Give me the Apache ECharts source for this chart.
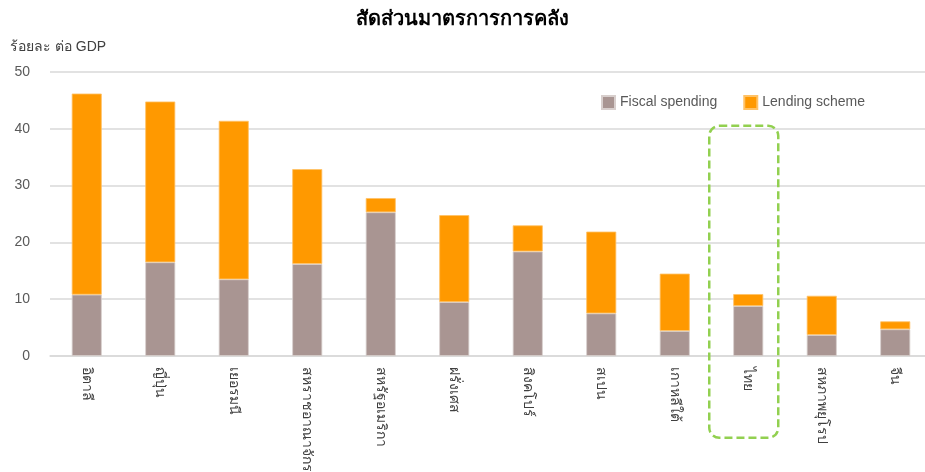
<!DOCTYPE html>
<html lang="th">
<head>
  <meta charset="UTF-8">
  <title>สัดส่วนมาตรการการคลัง</title>
  <script src="https://cdn.jsdelivr.net/npm/echarts@6/dist/echarts.min.js"></script>
  <style>
    html, body { margin: 0; padding: 0; background: #fff; }
  </style>
</head>
<body>
  <div id="main" style="width: 925px;height:472px;"></div>
  <script type="text/javascript">
      // ข้อมูล (ร้อยละ ต่อ GDP)
      var countries = ['อิตาลี', 'ญี่ปุ่น', 'เยอรมนี', 'สหราชอาณาจักร', 'สหรัฐอเมริกา', 'ฝรั่งเศส',
                       'สิงคโปร์', 'สเปน', 'เกาหลีใต้', 'ไทย', 'สหภาพยุโรป', 'จีน'];
      var fiscalSpending = [10.8, 16.5, 13.5, 16.2, 25.3, 9.5, 18.4, 7.5, 4.4, 8.8, 3.7, 4.7];
      var lendingScheme  = [35.4, 28.3, 27.9, 16.7, 2.5, 15.3, 4.6, 14.4, 10.1, 2.1, 6.9, 1.4];
      var yTicks = [0, 10, 20, 30, 40, 50];
      var highlight = 'ไทย';

      var myChart = echarts.init(document.getElementById('main'));
      var font = 'Arial, "Liberation Sans", "Noto Sans", sans-serif';

      var option = {
        animation: false,
        title: {
          text: 'สัดส่วนมาตรการการคลัง',
          left: 'center',
          top: 4,
          textStyle: { fontSize: 20, fontWeight: 'bold', color: '#000', fontFamily: font }
        },
        legend: {
          data: ['Fiscal spending', 'Lending scheme'],
          left: 596,
          top: 90,
          icon: 'rect',
          itemWidth: 13,
          itemHeight: 13,
          itemGap: 26,
          textStyle: { fontSize: 14, color: '#595959', fontFamily: font }
        },
        grid: {
          left: 50,
          right: -7,
          top: 72,
          bottom: 116,
          outerBoundsMode: 'none'
        },
        xAxis: {
          type: 'category',
          data: countries,
          axisTick: { show: false },
          axisLine: { lineStyle: { color: '#d9d9d9', width: 1.5 } },
          axisLabel: {
            rotate: -90,
            margin: 11,
            fontSize: 14,
            color: '#404040',
            fontFamily: font
          }
        },
        yAxis: {
          type: 'value',
          min: yTicks[0],
          max: yTicks[yTicks.length - 1],
          interval: 10,
          name: 'ร้อยละ ต่อ GDP',
          nameLocation: 'end',
          nameGap: 18,
          nameTextStyle: { fontSize: 14, color: '#404040', align: 'left', padding: [0, 0, 0, -40], fontFamily: font },
          axisLabel: { fontSize: 14, color: '#595959', margin: 20, fontFamily: font },
          splitLine: { lineStyle: { color: '#d9d9d9', width: 1.5 } }
        },
        series: [
          {
            name: 'Fiscal spending',
            type: 'bar',
            stack: 'total',
            barWidth: 30,
            data: fiscalSpending,
            itemStyle: { color: '#a99592', borderColor: '#d8cfcd', borderWidth: 0.8 }
          },
          {
            name: 'Lending scheme',
            type: 'bar',
            stack: 'total',
            barWidth: 30,
            data: lendingScheme,
            itemStyle: { color: '#ff9900', borderColor: '#ffc266', borderWidth: 0.8 }
          }
        ]
      };

      myChart.setOption(option);

      // กรอบเส้นประรอบแท่งของไทย
      var cx = myChart.convertToPixel({ xAxisIndex: 0 }, highlight);
      var top40 = myChart.convertToPixel({ yAxisIndex: 0 }, 40);
      myChart.setOption({
        graphic: [{
          type: 'rect',
          shape: { x: cx - 39, y: top40 - 3, width: 69, height: 312, r: 10 },
          style: { fill: 'none', stroke: '#92d050', lineWidth: 2.5, lineDash: [8, 4] },
          z: 10
        }]
      });
  </script>
</body>
</html>
